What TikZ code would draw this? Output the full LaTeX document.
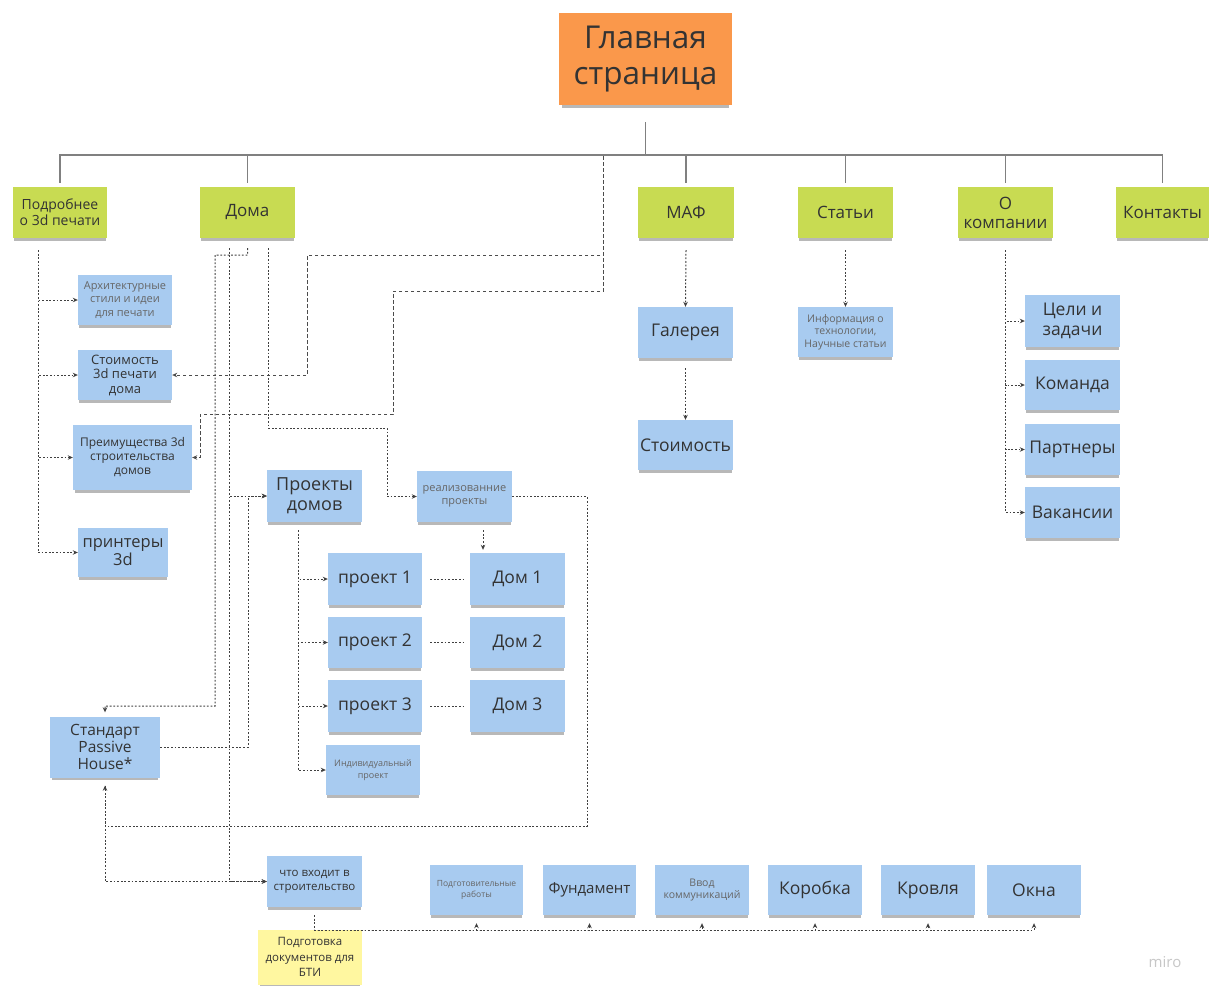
\documentclass[tikz,border=0pt]{standalone}
\usepackage{fontspec}
\setmainfont{Open Sans}
\usetikzlibrary{arrows.meta,shadows,calc}
\definecolor{stgreen}{RGB}{200,219,82}
\definecolor{stblue}{RGB}{168,203,240}
\definecolor{storange}{RGB}{250,152,75}
\definecolor{styellow}{RGB}{255,247,160}
\newcommand{\fsz}[2]{\fontsize{#1}{#2}\selectfont}
\begin{document}
\begin{tikzpicture}[x=1pt,y=-1pt,
  >={Stealth[length=5pt,width=4.5pt]},
  note/.style={rectangle, inner sep=1pt, align=center, text=black!80,
    drop shadow={shadow xshift=0pt, shadow yshift=-4pt, shadow scale=0.97, fill=black, opacity=0.28}},
  gnote/.style={note, fill=stgreen, minimum width=95pt, minimum height=51pt, font=\fsz{17}{19}},
  bnote/.style={note, fill=stblue, minimum width=95pt, minimum height=51pt},
  big/.style={font=\fsz{17.5}{20}},
  smalltxt/.style={font=\fsz{10.5}{12.5}, text=black!60},
  tree/.style={draw=black!50, line width=1.3pt},
  dotl/.style={draw=black!75, line width=1pt, dash pattern=on 1.8pt off 1.8pt},
  dashl/.style={draw=black!70, line width=1pt, dash pattern=on 3.5pt off 2.5pt}]
\useasboundingbox (0,0) rectangle (1209,985);
\fill[white] (0,0) rectangle (1209,985);

% main
\node[note, fill=storange, minimum width=173pt, minimum height=92pt, font=\fsz{31.5}{36}] (main) at (645.5,59) {Главная\\страница};

% top level
\node[gnote, minimum width=94pt, font=\fsz{14}{16}] (pod) at (60,212.5) {Подробнее\\о 3d печати};
\node[gnote] (doma) at (247.5,212.5) {Дома};
\node[gnote, minimum width=96pt] (maf) at (686,212.5) {МАФ};
\node[gnote] (stat) at (845.5,212.5) {Статьи};
\node[gnote] (ocomp) at (1005.5,212.5) {О\\компании};
\node[gnote, minimum width=93pt] (kont) at (1162.5,212.5) {Контакты};

% left column
\node[bnote, minimum width=94pt, minimum height=50pt, font=\fsz{11}{13.5}, text=black!60] (arch) at (125,300) {Архитектурные\\стили и идеи\\для печати};
\node[bnote, minimum width=94pt, minimum height=50pt, font=\fsz{13}{14.5}] (stoim3d) at (125,375) {Стоимость\\3d печати\\дома};
\node[bnote, minimum width=119pt, minimum height=65pt, font=\fsz{12}{14}] (preim) at (132.5,457.5) {Преимущества 3d\\строительства\\домов};
\node[bnote, minimum width=90pt, minimum height=49pt, font=\fsz{16.5}{18}] (prin) at (123,552.5) {принтеры\\3d};
\node[bnote, minimum width=110pt, minimum height=61pt, font=\fsz{15.5}{17}] (std) at (105,747) {Стандарт\\Passive\\House*};

% projects
\node[bnote, minimum height=52pt, font=\fsz{18}{20}] (proj) at (314.5,496) {Проекты\\домов};
\node[bnote, font=\fsz{11}{12.5}, text=black!60] (real) at (464.5,496.5) {реализованние\\проекты};
\node[bnote, minimum width=94pt, minimum height=52pt, big] (p1) at (375,579) {проект 1};
\node[bnote, minimum width=94pt, big] (p2) at (375,642.5) {проект 2};
\node[bnote, minimum width=94pt, minimum height=52pt, big] (p3) at (375,706) {проект 3};
\node[bnote, minimum width=94pt, minimum height=50pt, font=\fsz{9}{11.5}, text=black!60] (ind) at (373,770) {Индивидуальный\\проект};
\node[bnote, minimum height=52pt, big] (d1) at (517.5,579) {Дом 1};
\node[bnote, big] (d2) at (517.5,642.5) {Дом 2};
\node[bnote, minimum height=52pt, big] (d3) at (517.5,706) {Дом 3};

% MAF, articles
\node[bnote, big] (gal) at (685.5,332.5) {Галерея};
\node[bnote, minimum height=50pt, big] (stm) at (685.5,445) {Стоимость};
\node[bnote, minimum height=50pt, smalltxt] (info) at (845.5,332) {Информация о\\технологии,\\Научные статьи};

% company
\node[bnote, minimum height=52pt, big] (celi) at (1072.5,321) {Цели и\\задачи};
\node[bnote, minimum height=50pt, big] (kom) at (1072.5,385) {Команда};
\node[bnote, big] (part) at (1072.5,449.5) {Партнеры};
\node[bnote, big] (vak) at (1072.5,512.5) {Вакансии};

% bottom
\node[bnote, font=\fsz{11.5}{14}] (chto) at (314.5,881.5) {что входит в\\строительство};
\node[note, fill=styellow, minimum width=104pt, minimum height=55pt, font=\fsz{11.5}{15.5}] (bti) at (310,957) {Подготовка\\документов для\\БТИ};
\node[bnote, minimum width=93pt, minimum height=50pt, font=\fsz{8.5}{11}, text=black!60] (podg) at (476.5,890) {Подготовительные\\работы};
\node[bnote, minimum width=93pt, minimum height=50pt, font=\fsz{15}{17}] (fund) at (589.5,890) {Фундамент};
\node[bnote, minimum width=94pt, minimum height=50pt, font=\fsz{10.5}{12.5}, text=black!60] (vvod) at (702,890) {Ввод\\коммуникаций};
\node[bnote, minimum width=94pt, minimum height=50pt, big] (kor) at (815,890) {Коробка};
\node[bnote, minimum width=94pt, minimum height=50pt, big] (krov) at (928,890) {Кровля};
\node[bnote, minimum width=94pt, minimum height=50pt, big] (okna) at (1034,890) {Окна};

\node[text=black!22, font=\fsz{15}{17}] (miro) at (1165,962) {miro};

% tree
\coordinate (hb) at (645.5,155);
\foreach \t in {pod,doma,maf,stat,ocomp,kont}
  \draw[tree] ([yshift=-17pt]main.south) -- (hb) -| ([yshift=4pt]\t.north);

% dashed lines from the top bar
\coordinate (tapA) at (603,156);
\draw[dashl,->] (tapA) -- (603,255) -- (307,255) |- (stoim3d.east);
\draw[dashl,->] (tapA) -- (603,291) -- (393,291) -- (393,414) -- (200,414) |- (preim.east);

% Podrobnee
\foreach \c in {arch,stoim3d,preim,prin}
  \draw[dotl,->] ([shift={(-22,12)}]pod.south) |- (\c.west);

% Doma
\draw[dotl,->] ([yshift=-10pt]doma.south) -- ++(0,7) -- (215,255) -- (215,706) -| ([yshift=4pt]std.north);
\draw[dotl,->] ([shift={(-18,10)}]doma.south) |- (proj.west);
\draw[dotl,->] ([shift={(-18,10)}]doma.south) |- (chto.west);
\draw[dotl,->] (std.east) -| (248,496) -- (proj.west);
\draw[dotl,->] ([shift={(20.5,10)}]doma.south) -- (268,428) -| (387,496.5) -- (real.west);

% realised
\draw[dotl,->] (real.east) -- (587,496.5) -- (587,826) -| ([yshift=-8pt]std.south);
\draw[dotl,->] ([yshift=-8pt]std.south) |- (chto.west);
\draw[dotl,->] ([shift={(18.5,8)}]real.south) -- ([shift={(-34.5,-3)}]d1.north);

% projects
\foreach \c in {p1,p2,p3,ind}
  \draw[dotl,->] ([shift={(-16.5,8)}]proj.south) |- (\c.west);
\foreach \a/\b in {p1/d1,p2/d2,p3/d3}
  \draw[dotl] ([xshift=8pt]\a.east) -- ([xshift=-4pt]\b.west);

% MAF / articles
\draw[dotl,->] ([yshift=-12pt]maf.south) -- (gal.north);
\draw[dotl,->] ([yshift=-10pt]gal.south) -- (stm.north);
\draw[dotl,->] ([yshift=-12pt]stat.south) -- (info.north);

% company
\foreach \c in {celi,kom,part,vak}
  \draw[dotl,->] ([yshift=-12pt]ocomp.south) |- (\c.west);

% bottom bus
\coordinate (bus) at (314.5,930);
\foreach \c in {podg,fund,vvod,kor,krov,okna}
  \draw[dotl,->] ([yshift=-8pt]chto.south) -- (bus) -| ([yshift=-8pt]\c.south);
\end{tikzpicture}
\end{document}
